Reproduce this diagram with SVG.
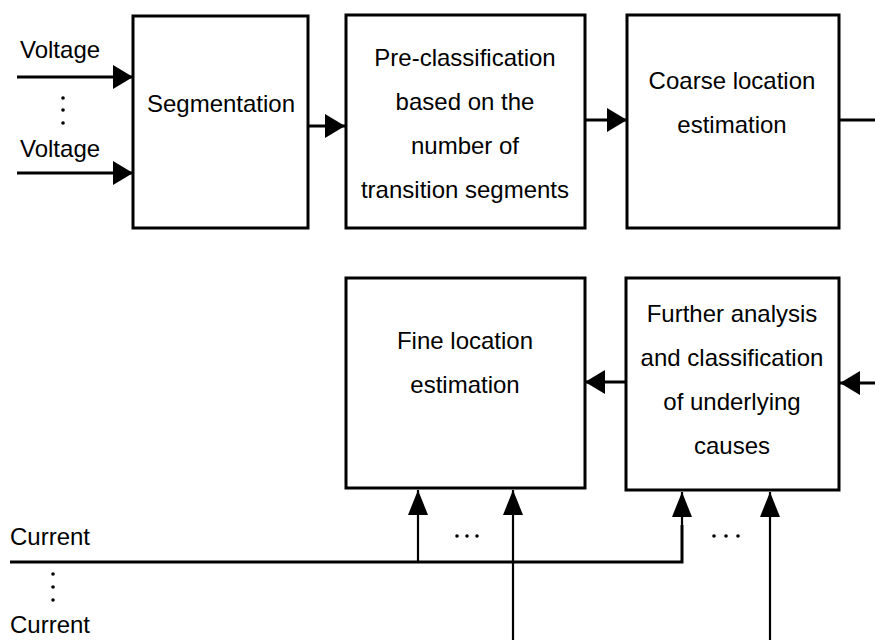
<svg xmlns="http://www.w3.org/2000/svg" width="875" height="640" viewBox="0 0 875 640">
<style>
.box{fill:#fff;stroke:#000;stroke-width:3}
.t{font-family:"Liberation Sans",Arial,sans-serif;font-size:24px;fill:#000;text-anchor:middle}
.l{font-family:"Liberation Sans",Arial,sans-serif;font-size:24px;fill:#000}
.c{fill:none;stroke:#000;stroke-width:3}
.c2{fill:none;stroke:#000;stroke-width:2.2}
.dot{fill:#000}
</style>
<defs>
<marker id="ah" viewBox="0 0 20 24" refX="20" refY="12" markerWidth="20" markerHeight="24" markerUnits="userSpaceOnUse" orient="auto"><path d="M0,0 L20,12 L0,24 Z" fill="#000"/></marker>
<marker id="au" viewBox="0 0 25 20" refX="25" refY="10" markerWidth="25" markerHeight="20" markerUnits="userSpaceOnUse" orient="auto"><path d="M0,0 L25,10 L0,20 Z" fill="#000"/></marker>
</defs>
<rect width="875" height="640" fill="#fff"/>
<g id="connectors">
<line class="c" x1="17" y1="77" x2="133" y2="77" marker-end="url(#ah)"/>
<line class="c" x1="17" y1="173" x2="133" y2="173" marker-end="url(#ah)"/>
<line class="c" x1="308" y1="126" x2="345" y2="126" marker-end="url(#ah)"/>
<line class="c" x1="586" y1="120" x2="627" y2="120" marker-end="url(#ah)"/>
<line class="c" x1="839" y1="120" x2="875" y2="120"/>
<line class="c" x1="875" y1="383" x2="840" y2="383" marker-end="url(#ah)"/>
<line class="c" x1="626" y1="382" x2="585" y2="382" marker-end="url(#ah)"/>
<polyline class="c" points="10,562 418,562"/>
<line class="c2" x1="418" y1="562" x2="418" y2="490" marker-end="url(#au)"/>
<polyline class="c" points="418,562 682,562 682,525"/>
<line class="c2" x1="682" y1="525" x2="682" y2="492" marker-end="url(#au)"/>
<line class="c2" x1="513" y1="640" x2="513" y2="490" marker-end="url(#au)"/>
<line class="c2" x1="770" y1="640" x2="770" y2="492" marker-end="url(#au)"/>
</g>
<g id="labels">
<text class="l" x="20" y="58">Voltage</text>
<circle class="dot" cx="63" cy="98" r="1.8"/>
<circle class="dot" cx="63" cy="110" r="1.8"/>
<circle class="dot" cx="63" cy="123" r="1.8"/>
<text class="l" x="20" y="157">Voltage</text>
<text class="l" x="10" y="545">Current</text>
<circle class="dot" cx="53" cy="574" r="1.8"/>
<circle class="dot" cx="53" cy="587" r="1.8"/>
<circle class="dot" cx="53" cy="600" r="1.8"/>
<text class="l" x="10" y="633">Current</text>
<circle class="dot" cx="457" cy="536" r="1.8"/>
<circle class="dot" cx="467" cy="536" r="1.8"/>
<circle class="dot" cx="477" cy="536" r="1.8"/>
<circle class="dot" cx="714" cy="536" r="1.8"/>
<circle class="dot" cx="726" cy="536" r="1.8"/>
<circle class="dot" cx="738" cy="536" r="1.8"/>
</g>
<g id="segmentation">
<rect class="box" x="133" y="16" width="175" height="212"/>
<text class="t" x="221" y="112">Segmentation</text>
</g>
<g id="preclassification">
<rect class="box" x="346" y="15" width="239" height="213"/>
<text class="t" x="465" y="66">Pre-classification</text>
<text class="t" x="465" y="110">based on the</text>
<text class="t" x="465" y="154">number of</text>
<text class="t" x="465" y="198">transition segments</text>
</g>
<g id="coarse">
<rect class="box" x="627" y="15" width="212" height="213"/>
<text class="t" x="732" y="89">Coarse location</text>
<text class="t" x="732" y="133">estimation</text>
</g>
<g id="further">
<rect class="box" x="626" y="278" width="213" height="212"/>
<text class="t" x="732" y="322">Further analysis</text>
<text class="t" x="732" y="366">and classification</text>
<text class="t" x="732" y="410">of underlying</text>
<text class="t" x="732" y="454">causes</text>
</g>
<g id="fine">
<rect class="box" x="346" y="278" width="239" height="210"/>
<text class="t" x="465" y="349">Fine location</text>
<text class="t" x="465" y="393">estimation</text>
</g>
</svg>
